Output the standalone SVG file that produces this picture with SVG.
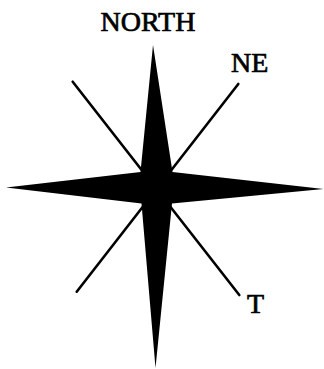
<svg xmlns="http://www.w3.org/2000/svg" width="324" height="369" viewBox="0 0 324 369">
<style>
.lbl{font-family:"Liberation Serif","Times New Roman",serif;font-size:28px;fill:#000;stroke:#000;stroke-width:0.7}
.ln{stroke:#000;stroke-width:2.6;stroke-linecap:round;fill:none}
</style>
<rect width="324" height="369" fill="#fff"/>
<g id="connectors">
<line class="ln" x1="72.7" y1="81.7" x2="239.3" y2="295"/>
<line class="ln" x1="76.7" y1="291.7" x2="238.3" y2="84"/>
</g>
<g id="star">
<polygon fill="#000" points="153,45 172.5,172 323.5,189 172,203.5 155.5,368 141.5,203.5 6,187.5 140.5,172"/>
</g>
<g id="north"><text class="lbl" x="148" y="31" text-anchor="middle">NORTH</text></g>
<g id="ne"><text class="lbl" x="231" y="72">NE</text></g>
<g id="t"><text class="lbl" x="247" y="313">T</text></g>
</svg>
